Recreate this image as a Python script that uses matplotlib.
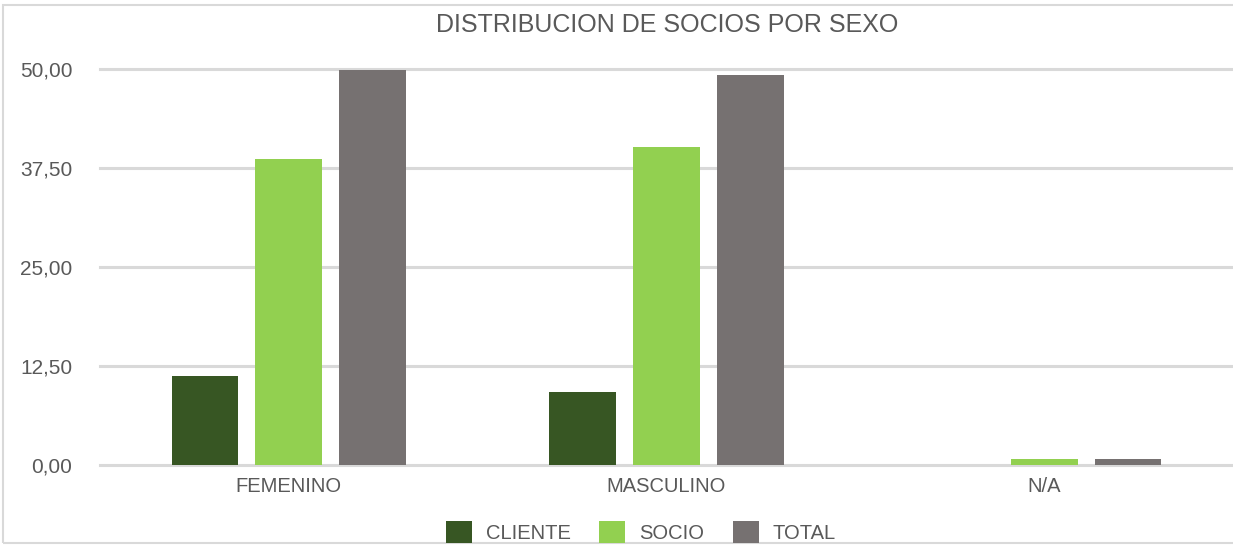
import matplotlib.pyplot as plt
import matplotlib.patches as mpatches
import numpy as np

plt.rcParams['font.family'] = ['Liberation Sans', 'DejaVu Sans']

categorias = ['FEMENINO', 'MASCULINO', 'N/A']
series = ['CLIENTE', 'SOCIO', 'TOTAL']
cliente = [11.24, 9.22, 0.0]
socio = [38.64, 40.15, 0.76]
total = [49.9, 49.3, 0.76]
colores = ['#375623', '#92D050', '#767171']
yticks = [0, 12.5, 25, 37.5, 50]

gris = '#595959'

fig = plt.figure(figsize=(12.33, 5.45), dpi=100)
ax = fig.add_axes([100 / 1233, 80 / 545, 1133 / 1233, 396 / 545])

x = np.arange(len(categorias))
ancho = 0.177
offs = [-0.222, 0, 0.222]
for vals, nombre, c, o in zip([cliente, socio, total], series, colores, offs):
    ax.bar(x + o, vals, width=ancho, color=c, label=nombre, zorder=3)

ax.set_xlim(-0.5, 2.5)
ax.set_ylim(0, 50)
ax.set_yticks(yticks)
ax.set_yticklabels([f'{v:.2f}'.replace('.', ',') for v in yticks])
ax.set_xticks(x)
ax.set_xticklabels(categorias)
ax.tick_params(axis='y', length=0, pad=20, labelsize=15, labelcolor=gris)
ax.tick_params(axis='x', length=0, pad=9, labelsize=14.5, labelcolor=gris)
for y in yticks:
    ax.axhline(y, color='#d9d9d9', linewidth=2.2, zorder=1, clip_on=False)
for s in ax.spines.values():
    s.set_visible(False)

fig.text(667 / 1233, 1 - 25 / 545, 'DISTRIBUCION DE SOCIOS POR SEXO', ha='center', va='center',
         fontsize=18, color=gris)

fig.legend(loc='center', bbox_to_anchor=(641 / 1233, 1 - 532 / 545), ncol=3, frameon=False,
           fontsize=14.5, labelcolor=gris, handlelength=1.3, handleheight=1.3,
           handletextpad=0.7, columnspacing=1.4)

# borde del gráfico
fig.patches.append(mpatches.Rectangle((3 / 1233, 2 / 545), 1.2, 538 / 545, transform=fig.transFigure,
                                      fill=False, edgecolor='#d9d9d9', linewidth=1.5))

fig.savefig('out.png', dpi=100)
